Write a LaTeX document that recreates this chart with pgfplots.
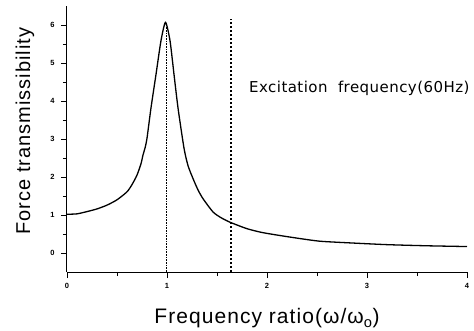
\documentclass[border=0pt]{standalone}
\usepackage{pgfplots}
\pgfplotsset{compat=1.18}
\usepackage{fontspec}
\setmainfont{Liberation Sans}
\newfontfamily\lsp[LetterSpace=5]{Liberation Sans}
\newfontfamily\dv[LetterSpace=3]{DejaVu Sans}
\begin{document}
\begin{tikzpicture}
\useasboundingbox (-67pt,-58pt) rectangle (407pt,272pt);
\begin{axis}[
  scale only axis, width=400pt, height=266pt,
  at={(0,0)}, anchor=south west,
  xmin=0, xmax=4, ymin=-0.5, ymax=6.5,
  axis lines=left, axis line style={-, line width=1pt},
  tick align=outside,
  major tick length=6pt, minor tick length=4pt,
  every tick/.style={line width=0.9pt, black},
  xtick={0,1,2,3,4}, ytick={0,1,2,3,4,5,6},
  minor x tick num=1, minor y tick num=1,
  /pgf/number format/assume math mode=true,
  ticklabel style={font=\fontsize{7.5}{8}\selectfont\bfseries},
  xticklabel style={yshift=-2pt},
  yticklabel style={xshift=-3pt},
  xlabel={Frequency ratio(ω/ω\textsubscript{o})},
  ylabel={Force transmissibility},
  xlabel style={font=\lsp\fontsize{21}{23}\selectfont, at={(axis description cs:0.5,-0.175)}, anchor=center},
  ylabel style={font=\lsp\fontsize{20}{22}\selectfont, at={(axis description cs:-0.105,0.53)}, anchor=center},
  clip=false,
]
\addplot[black, line width=1.3pt, smooth, tension=0.4] coordinates {
(0,1.02) (0.1,1.03) (0.2,1.09) (0.3,1.16) (0.4,1.26) (0.5,1.40) (0.6,1.61)
(0.65,1.80) (0.70,2.05) (0.74,2.35) (0.76,2.58) (0.78,2.76) (0.80,3.02)
(0.84,3.82) (0.89,4.70) (0.94,5.59) (0.985,6.07) (1.03,5.59)
(1.07,4.70) (1.11,3.82) (1.17,2.76) (1.21,2.30) (1.26,1.96) (1.31,1.66)
(1.36,1.43) (1.46,1.08) (1.54,0.93) (1.63,0.81) (1.80,0.64) (1.95,0.54)
(2.13,0.46) (2.33,0.38) (2.53,0.31) (2.80,0.27) (3.20,0.22) (3.60,0.19) (4.0,0.17)
};
\addplot[black, line width=0.6pt, densely dotted] coordinates {(0.99,-0.5) (0.99,6.0)};
\addplot[black, line width=1.2pt, dash pattern=on 2.5pt off 1.5pt] coordinates {(1.64,-0.5) (1.64,6.15)};
\node[anchor=west, font=\dv\fontsize{15}{17}\selectfont, inner sep=0pt] at (axis cs:1.82,4.34) {Excitation\ \ frequency(60Hz)};
\end{axis}
\end{tikzpicture}
\end{document}
